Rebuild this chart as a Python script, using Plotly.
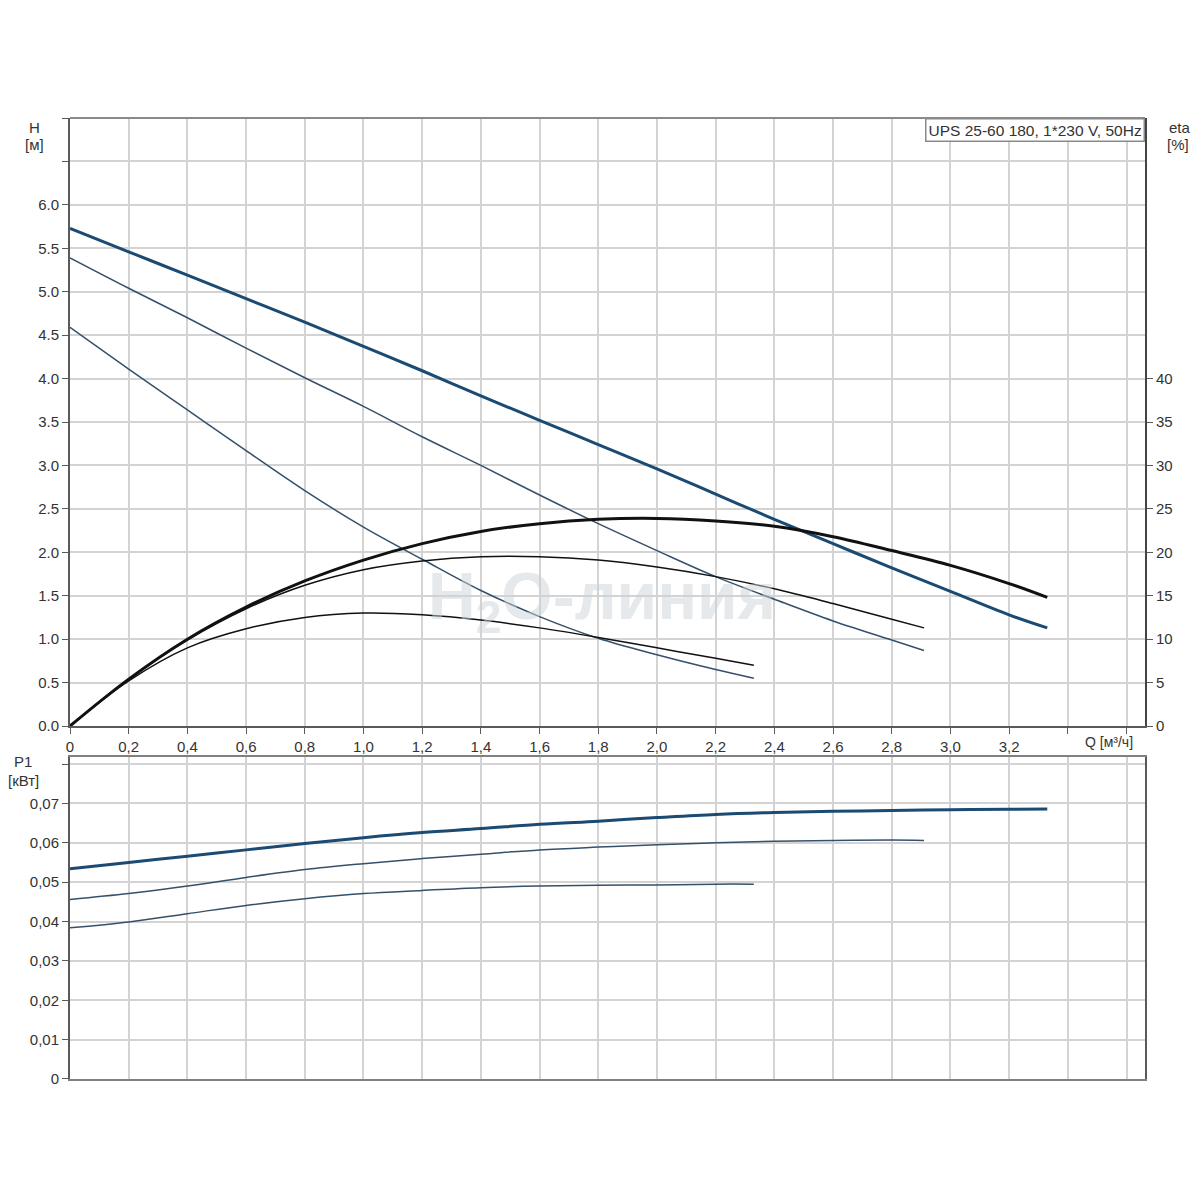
import plotly.graph_objects as go

# ---------------- data ----------------
q3 = [0, 0.2, 0.4, 0.6, 0.8, 1.0, 1.2, 1.4, 1.6, 1.8, 2.0, 2.2, 2.4, 2.6, 2.8, 3.0, 3.2, 3.33]
h3 = [5.73, 5.46, 5.19, 4.92, 4.65, 4.37, 4.09, 3.80, 3.52, 3.24, 2.96, 2.67, 2.38, 2.10, 1.82, 1.55, 1.28, 1.13]
eta3 = [0, 5.4, 10.0, 13.7, 16.7, 19.1, 21.0, 22.4, 23.3, 23.8, 23.9, 23.6, 23.0, 21.8, 20.2, 18.5, 16.4, 14.8]
p3 = [0.0534, 0.0550, 0.0566, 0.0582, 0.0598, 0.0613, 0.0626, 0.0636, 0.0647, 0.0655, 0.0664, 0.0672,
      0.0677, 0.0680, 0.0682, 0.0684, 0.0685, 0.0686]

q2 = [0, 0.2, 0.4, 0.6, 0.8, 1.0, 1.2, 1.4, 1.6, 1.8, 2.0, 2.2, 2.4, 2.6, 2.8, 2.91]
h2 = [5.39, 5.04, 4.70, 4.35, 4.01, 3.68, 3.33, 3.00, 2.66, 2.33, 2.02, 1.72, 1.46, 1.21, 0.99, 0.87]
eta2 = [0, 5.4, 9.9, 13.5, 16.2, 18.0, 19.0, 19.5, 19.5, 19.1, 18.3, 17.2, 15.8, 14.1, 12.3, 11.3]
p2 = [0.0456, 0.0471, 0.0490, 0.0512, 0.0532, 0.0547, 0.0560, 0.0571, 0.0582, 0.0589, 0.0595, 0.0600,
      0.0604, 0.0606, 0.0607, 0.0606]

q1 = [0, 0.2, 0.4, 0.6, 0.8, 1.0, 1.2, 1.4, 1.6, 1.8, 2.0, 2.2, 2.33]
h1 = [4.59, 4.11, 3.64, 3.17, 2.71, 2.29, 1.92, 1.56, 1.26, 1.01, 0.82, 0.65, 0.55]
eta1 = [0, 5.2, 9.0, 11.2, 12.5, 13.0, 12.8, 12.2, 11.3, 10.2, 9.0, 7.8, 7.0]
p1 = [0.0384, 0.0399, 0.0420, 0.0441, 0.0458, 0.0471, 0.0479, 0.0486, 0.0490, 0.0492, 0.0493, 0.0495, 0.0495]

q_ticks = [0, 0.2, 0.4, 0.6, 0.8, 1.0, 1.2, 1.4, 1.6, 1.8, 2.0, 2.2, 2.4, 2.6, 2.8, 3.0, 3.2, 3.4, 3.6]
q_labels = ["0", "0,2", "0,4", "0,6", "0,8", "1,0", "1,2", "1,4", "1,6", "1,8", "2,0", "2,2", "2,4",
            "2,6", "2,8", "3,0", "3,2", "", ""]
h_ticks = [0, 0.5, 1.0, 1.5, 2.0, 2.5, 3.0, 3.5, 4.0, 4.5, 5.0, 5.5, 6.0, 6.5, 7.0]
h_labels = ["0.0", "0.5", "1.0", "1.5", "2.0", "2.5", "3.0", "3.5", "4.0", "4.5", "5.0", "5.5", "6.0", "", ""]
eta_ticks = [0, 5, 10, 15, 20, 25, 30, 35, 40]
eta_labels = ["0", "5", "10", "15", "20", "25", "30", "35", "40"]
p_ticks = [0, 0.01, 0.02, 0.03, 0.04, 0.05, 0.06, 0.07, 0.08]
p_labels = ["0", "0,01", "0,02", "0,03", "0,04", "0,05", "0,06", "0,07", ""]

# ---------------- styling ----------------
BLUE_THICK = "#1b4a72"
BLUE_THIN = "#34506a"
BLACK = "#111111"
GRID = "#d3d3d3"
AX = "#5a5a5a"
FONT = "Liberation Sans, Arial, sans-serif"
TXT = "#333333"
FS = 15

fig = go.Figure()

for q, h, w, c in [(q1, h1, 1.5, BLUE_THIN), (q2, h2, 1.5, BLUE_THIN), (q3, h3, 3, BLUE_THICK)]:
    fig.add_trace(go.Scatter(x=q, y=h, mode="lines", line=dict(color=c, width=w, shape="spline"),
                             xaxis="x", yaxis="y", showlegend=False, hoverinfo="skip"))
for q, e, w in [(q1, eta1, 1.5), (q2, eta2, 1.5), (q3, eta3, 3)]:
    fig.add_trace(go.Scatter(x=q, y=e, mode="lines", line=dict(color=BLACK, width=w, shape="spline"),
                             xaxis="x", yaxis="y2", showlegend=False, hoverinfo="skip"))
for q, p, w, c in [(q1, p1, 1.5, BLUE_THIN), (q2, p2, 1.5, BLUE_THIN), (q3, p3, 3, BLUE_THICK)]:
    fig.add_trace(go.Scatter(x=q, y=p, mode="lines", line=dict(color=c, width=w, shape="spline"),
                             xaxis="x2", yaxis="y3", showlegend=False, hoverinfo="skip"))

tickfont = dict(family=FONT, size=FS, color=TXT)
XR = [0, 3.663]

fig.update_layout(
    width=1200, height=1200,
    margin=dict(l=62, r=63, t=110, b=129),
    paper_bgcolor="white", plot_bgcolor="white",
    font=dict(family=FONT, size=FS, color=TXT),
    xaxis=dict(domain=[0, 1], range=XR, anchor="y", tickvals=q_ticks, ticktext=q_labels,
               showgrid=True, gridcolor=GRID, gridwidth=1.5, zeroline=False,
               showline=True, linecolor=AX, linewidth=2, ticks="outside", ticklen=6,
               tickcolor=AX, tickfont=tickfont),
    yaxis=dict(domain=[0.3673, 1], range=[0, 7.0], tickvals=h_ticks, ticktext=h_labels,
               showgrid=True, gridcolor=GRID, gridwidth=1.5, zeroline=False,
               showline=True, linecolor=AX, linewidth=2, ticks="outside", ticklen=6,
               tickcolor=AX, tickfont=tickfont),
    yaxis2=dict(overlaying="y", side="right", anchor="x", range=[0, 70], tickvals=eta_ticks,
                ticktext=eta_labels, showgrid=False, zeroline=False, showline=True,
                linecolor="#444", linewidth=2, ticks="outside", ticklen=6, tickcolor=AX,
                tickfont=tickfont),
    xaxis2=dict(domain=[0, 1], range=XR, anchor="y3", tickvals=q_ticks, showticklabels=False,
                showgrid=True, gridcolor=GRID, gridwidth=1.5, zeroline=False,
                showline=True, mirror=True, linecolor="#808080", linewidth=2, ticks=""),
    yaxis3=dict(domain=[0, 0.3351], range=[0, 0.0818], anchor="x2", tickvals=p_ticks, ticktext=p_labels,
                showgrid=True, gridcolor=GRID, gridwidth=1.5, zeroline=False,
                showline=True, mirror=True, linecolor=AX, linewidth=2, ticks="outside", ticklen=6,
                tickcolor=AX, tickfont=tickfont),
)

fig.add_shape(type="line", xref="x domain", yref="y domain", x0=0, x1=1, y0=1, y1=1,
              line=dict(color="#8a8a8a", width=2))

ann = []
ann.append(dict(text="<b>H<sub>2</sub>O-линия</b>", xref="paper", yref="paper", x=0.495, y=0.497,
                xanchor="center", yanchor="middle",
                showarrow=False, font=dict(family="Liberation Sans, Arial", size=66, color="#ccd4d9"),
                opacity=0.5))
ann.append(dict(text="UPS 25-60 180, 1*230 V, 50Hz", xref="x domain", yref="y domain", x=1, y=1,
                xanchor="right", yanchor="top", showarrow=False, bgcolor="white",
                bordercolor="#8a8a8a", borderwidth=1.5, borderpad=2,
                font=dict(family=FONT, size=15.5, color=TXT)))
ann.append(dict(text="Q [м³/ч]", xref="x", yref="y domain", x=3.54, y=0, yshift=-16,
                xanchor="center", yanchor="middle",
                showarrow=False, font=dict(family=FONT, size=14, color=TXT)))
for t, x, y in [("H", -0.0326, 0.9906), ("[м]", -0.0326, 0.9729),
                ("eta", 1.0326, 0.9906), ("[%]", 1.0307, 0.9729),
                ("P1", -0.0437, 0.3299), ("[кВт]", -0.0437, 0.3101)]:
    ann.append(dict(text=t, xref="paper", yref="paper", x=x, y=y, xanchor="center", yanchor="middle",
                    showarrow=False, font=dict(family=FONT, size=FS, color=TXT)))
fig.update_layout(annotations=ann)

fig.write_html("out.html")
